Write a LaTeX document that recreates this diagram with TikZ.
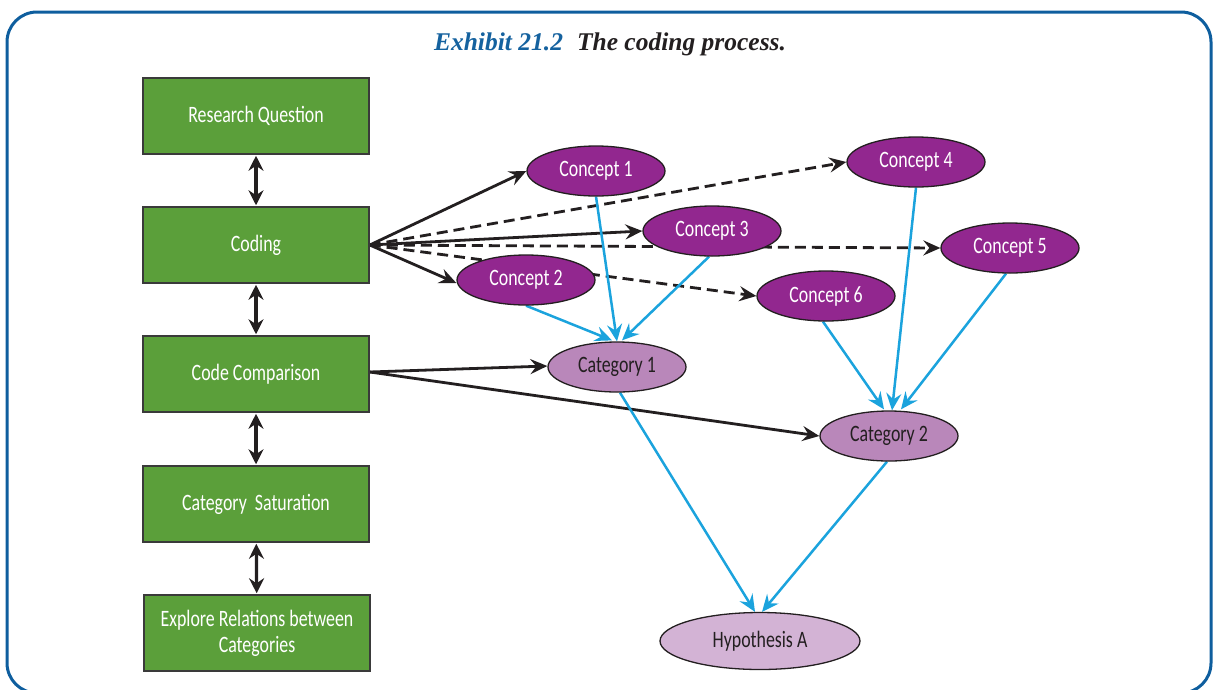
\documentclass[tikz,border=0pt]{standalone}
\usepackage{fontspec}
\usetikzlibrary{arrows.meta,shapes.geometric}
\setmainfont{Liberation Serif}
\newfontfamily\labelfont{Carlito}[FakeStretch=0.76]

\definecolor{framebl}{HTML}{0E5E9E}
\definecolor{titlebl}{HTML}{15629F}
\definecolor{ink}{HTML}{231F20}
\definecolor{stagegreen}{HTML}{5B9F3A}
\definecolor{boxline}{HTML}{3A3A3A}
\definecolor{conceptpu}{HTML}{92278F}
\definecolor{categorypu}{HTML}{B987BA}
\definecolor{hypopu}{HTML}{D3B3D5}
\definecolor{linkblue}{HTML}{1BA3DD}

\pgfdeclarelayer{background}
\pgfsetlayers{background,main}

\begin{document}
\begin{tikzpicture}[x=1pt,y=-1pt,
  lbl/.style={font=\labelfont\fontsize{23.5}{26}\selectfont},
  stage/.style={lbl, draw=boxline, line width=1.5pt, fill=stagegreen,
    minimum width=226pt, minimum height=76pt, text=white, align=center, inner sep=0pt},
  concept/.style={lbl, ellipse, draw=ink, line width=1.3pt, fill=conceptpu,
    text=white, minimum width=138pt, minimum height=50pt, inner sep=0pt},
  category/.style={concept, fill=categorypu, text=ink},
  hypo/.style={concept, fill=hypopu, text=ink, minimum width=200pt, minimum height=57pt},
  tip/.style={-{Stealth[length=17pt,width=15pt,inset=6pt]}},
  link/.style={tip, draw=ink, line width=2.8pt},
  maybe/.style={link, dash pattern=on 11pt off 6pt},
  feed/.style={tip, draw=linkblue, line width=2.5pt},
  both/.style={{Stealth[length=15pt,width=15pt,inset=5pt]}-{Stealth[length=15pt,width=15pt,inset=5pt]},
    draw=ink, line width=3.2pt, shorten <=1pt, shorten >=1pt}
]
\useasboundingbox (0,0) rectangle (1214,689);

% outer frame, open at the bottom edge of the page
\draw[framebl, line width=3pt, rounded corners=30pt] (7,12) rectangle (1211,693);

% heading
\node (title) at (610,44) {\fontsize{25.5}{28}\selectfont\bfseries\itshape
  \textcolor{titlebl}{Exhibit 21.2}\hspace{0.55em}\textcolor{ink}{The coding process.}};

% stages of the process
\node[stage] (rq)  at (256,116) {Research Question};
\node[stage] (cod) at (256,245) {Coding};
\node[stage] (cmp) at (256,374) {Code Comparison};
\node[stage] (sat) at (256,504) {Category\ \ Saturation};
\node[stage] (rel) at (257,633) {Explore Relations between\\Categories};

\draw[both] (rq)  -- (cod);
\draw[both] (cod) -- (cmp);
\draw[both] (cmp) -- (sat);
\draw[both] (sat) -- (rel);

% concepts, categories, hypothesis
\node[concept] (c1) at (596,171) {Concept 1};
\node[concept] (c2) at (526,280) {Concept 2};
\node[concept] (c3) at (712,231) {Concept 3};
\node[concept] (c4) at (916,162) {Concept 4};
\node[concept] (c5) at (1010,248) {Concept 5};
\node[concept] (c6) at (826,296) {Concept 6};
\node[category] (k1) at (617,367) {Category 1};
\node[category] (k2) at (889,436) {Category 2};
\node[hypo] (h) at (760,641) {Hypothesis A};

\begin{pgfonlayer}{background}
  % coding produces concepts
  \draw[link]  (cod.east) -- (c1.west);
  \draw[link]  (cod.east) -- (c3.west);
  \draw[link]  (cod.east) -- ([yshift=-3pt]c2.west);
  \draw[maybe] (cod.east) -- (c4.west);
  \draw[maybe] (cod.east) -- (c5.west);
  \draw[maybe] (cod.east) -- (c6.west);
  % comparison groups into categories
  \draw[link] ([yshift=2pt]cmp.east) -- ([yshift=1pt]k1.west);
  \draw[link] ([yshift=2pt]cmp.east) -- (k2.west);
  % concepts feed categories
  \draw[feed] (c1.south) -- ([xshift=0pt]k1.north);
  \draw[feed] (c2.south) -- ([xshift=-5pt,yshift=1pt]k1.north);
  \draw[feed] ([xshift=-3pt]c3.south) -- ([xshift=5pt,yshift=1pt]k1.north);
  \draw[feed] ([xshift=-3pt]c6.south) -- ([xshift=-5pt,yshift=1pt]k2.north);
  \draw[feed] (c4.south) -- ([xshift=3pt]k2.north);
  \draw[feed] ([xshift=-4pt]c5.south) -- ([xshift=12pt,yshift=1pt]k2.north);
  % categories lead to the hypothesis
  \draw[feed] ([xshift=3pt]k1.south) -- ([xshift=-5pt]h.north);
  \draw[feed] ([xshift=-2pt]k2.south) -- ([xshift=2pt]h.north);
\end{pgfonlayer}
\end{tikzpicture}
\end{document}
